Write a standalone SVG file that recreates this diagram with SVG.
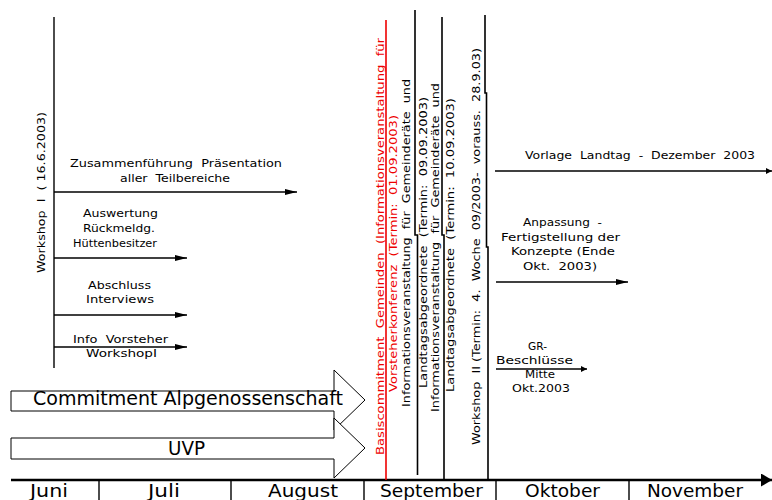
<svg xmlns="http://www.w3.org/2000/svg" width="772" height="500" viewBox="0 0 772 500">
<style>
  .t { font-family: "DejaVu Sans", Verdana, sans-serif; font-size: 11.3px; fill: #000; white-space: pre; }
  .r { fill: #e00; }
  .big { font-family: "DejaVu Sans", Verdana, sans-serif; font-size: 19px; fill: #000; }
  .mon { font-family: "DejaVu Sans", Verdana, sans-serif; font-size: 17px; fill: #000; }
  .ln { stroke: #000; stroke-width: 1.4; fill: none; }
  .vl { stroke: #000; stroke-width: 1.6; fill: none; }
  .blk { stroke: #000; stroke-width: 1; fill: #fff; }
</style>
<defs>
  <marker id="ah" markerUnits="userSpaceOnUse" markerWidth="12" markerHeight="6" refX="12" refY="3" orient="auto">
    <path d="M0,0 L12,3 L0,6 z" fill="#000"/>
  </marker>
  <marker id="ahs" markerUnits="userSpaceOnUse" markerWidth="6" markerHeight="6" refX="6" refY="3" orient="auto">
    <path d="M0,0 L6,3 L0,6 z" fill="#000"/>
  </marker>
  <marker id="ahbig" markerUnits="userSpaceOnUse" markerWidth="11" markerHeight="13" refX="11" refY="6.5" orient="auto">
    <path d="M0,0 L11,6.5 L0,13 z" fill="#000"/>
  </marker>
</defs>
<rect width="772" height="500" fill="#fff"/>

<g id="timeline">
  <line x1="11" y1="480" x2="772" y2="480" stroke="#000" stroke-width="2.7" marker-end="url(#ahbig)"/>
  <g class="ln">
    <line x1="99" y1="480" x2="99" y2="500"/>
    <line x1="231" y1="480" x2="231" y2="500"/>
    <line x1="364" y1="480" x2="364" y2="500"/>
    <line x1="496" y1="480" x2="496" y2="500"/>
    <line x1="629" y1="480" x2="629" y2="500"/>
  </g>
  <text class="mon" x="30" y="497" textLength="38" lengthAdjust="spacingAndGlyphs">Juni</text>
  <text class="mon" x="148" y="497" textLength="32" lengthAdjust="spacingAndGlyphs">Juli</text>
  <text class="mon" x="268" y="497" textLength="70" lengthAdjust="spacingAndGlyphs">August</text>
  <text class="mon" x="380" y="497" textLength="103" lengthAdjust="spacingAndGlyphs">September</text>
  <text class="mon" x="525" y="497" textLength="75" lengthAdjust="spacingAndGlyphs">Oktober</text>
  <text class="mon" x="647" y="497" textLength="96" lengthAdjust="spacingAndGlyphs">November</text>
</g>

<g id="commitment">
  <polygon class="blk" points="11,391 334,391 334,370 365,400 334,430 334,411 11,411"/>
  <text class="big" x="33" y="405" textLength="310" lengthAdjust="spacingAndGlyphs">Commitment Alpgenossenschaft</text>
</g>
<g id="uvp">
  <polygon class="blk" points="11,438 334,438 334,418 365,448 334,478 334,459 11,459"/>
  <text class="big" x="168" y="455" textLength="37" lengthAdjust="spacingAndGlyphs">UVP</text>
</g>

<g id="workshop1">
  <line class="ln" x1="54" y1="17" x2="54" y2="368"/>
  <text class="t" transform="translate(45,273) rotate(-90)" textLength="161" lengthAdjust="spacingAndGlyphs">Workshop  I  ( 16.6.2003)</text>
</g>

<g id="connectors">
  <line class="ln" x1="54" y1="192" x2="297" y2="192" marker-end="url(#ah)"/>
  <line class="ln" x1="54" y1="258" x2="187" y2="258" marker-end="url(#ah)"/>
  <line class="ln" x1="54" y1="315" x2="187" y2="315" marker-end="url(#ah)"/>
  <line class="ln" x1="54" y1="347" x2="187" y2="347" marker-end="url(#ah)"/>
  <line class="ln" x1="495" y1="171" x2="772" y2="171" marker-end="url(#ahs)"/>
  <line class="ln" x1="496" y1="282" x2="628" y2="282" marker-end="url(#ah)"/>
  <line class="ln" x1="496" y1="369" x2="587" y2="369" marker-end="url(#ahs)"/>
</g>

<g id="zusammenfuehrung">
  <text class="t" x="70" y="167" textLength="212" lengthAdjust="spacingAndGlyphs">Zusammenführung  Präsentation</text>
  <text class="t" x="120" y="182" textLength="110" lengthAdjust="spacingAndGlyphs">aller  Teilbereiche</text>
</g>
<g id="auswertung">
  <text class="t" x="83" y="217" textLength="75" lengthAdjust="spacingAndGlyphs">Auswertung</text>
  <text class="t" x="83" y="232" textLength="72" lengthAdjust="spacingAndGlyphs">Rückmeldg.</text>
  <text class="t" x="73" y="247" textLength="84" lengthAdjust="spacingAndGlyphs">Hüttenbesitzer</text>
</g>
<g id="abschluss">
  <text class="t" x="88" y="289" textLength="63" lengthAdjust="spacingAndGlyphs">Abschluss</text>
  <text class="t" x="86" y="303" textLength="68" lengthAdjust="spacingAndGlyphs">Interviews</text>
</g>
<g id="info">
  <text class="t" x="73" y="343" textLength="95" lengthAdjust="spacingAndGlyphs">Info  Vorsteher</text>
  <text class="t" x="86" y="357" textLength="71" lengthAdjust="spacingAndGlyphs">WorkshopI</text>
</g>

<g id="basiscommitment">
  <line x1="386" y1="20" x2="386" y2="480" stroke="#e00" stroke-width="1.6"/>
  <text class="t r" transform="translate(384,455) rotate(-90)" textLength="417" lengthAdjust="spacingAndGlyphs">Basiscommitment  Gemeinden  (Informationsveranstaltung  für</text>
  <text class="t r" transform="translate(397,392) rotate(-90)" textLength="277" lengthAdjust="spacingAndGlyphs">Vorsteherkonferenz  (Termin:  01.09.2003)</text>
</g>

<g id="info-09">
  <path class="vl" d="M415,10 V235 H417.5 V475"/>
  <text class="t" transform="translate(410,407) rotate(-90)" textLength="328" lengthAdjust="spacingAndGlyphs">Informationsveranstaltung  für  Gemeinderäte  und</text>
  <text class="t" transform="translate(427,388) rotate(-90)" textLength="291" lengthAdjust="spacingAndGlyphs">Landtagsabgeordnete  (Termin:  09.09.2003)</text>
</g>

<g id="info-10">
  <path class="vl" d="M442,17 V235 H444 V480"/>
  <text class="t" transform="translate(439,412) rotate(-90)" textLength="329" lengthAdjust="spacingAndGlyphs">Informationsveranstaltung  für  Gemeinderäte  und</text>
  <text class="t" transform="translate(454,392) rotate(-90)" textLength="294" lengthAdjust="spacingAndGlyphs">Landtagsabgeordnete  (Termin:  10.09.2003)</text>
</g>

<g id="workshop2">
  <path class="vl" d="M485,15 V93 H486.5 V247 H488 V480"/>
  <text class="t" transform="translate(480,445) rotate(-90)" textLength="397" lengthAdjust="spacingAndGlyphs">Workshop  II (Termin:  4.  Woche  09/2003-  vorauss.  28.9.03)</text>
</g>

<g id="vorlage">
  <text class="t" x="525" y="159" textLength="230" lengthAdjust="spacingAndGlyphs">Vorlage  Landtag  -  Dezember  2003</text>
</g>
<g id="anpassung">
  <text class="t" x="523" y="226" textLength="79" lengthAdjust="spacingAndGlyphs">Anpassung  -</text>
  <text class="t" x="501" y="241" textLength="119" lengthAdjust="spacingAndGlyphs">Fertigstellung der</text>
  <text class="t" x="511" y="255" textLength="104" lengthAdjust="spacingAndGlyphs">Konzepte (Ende</text>
  <text class="t" x="523" y="270" textLength="74" lengthAdjust="spacingAndGlyphs">Okt.  2003)</text>
</g>
<g id="gr-beschluesse">
  <text class="t" x="528" y="350" textLength="19" lengthAdjust="spacingAndGlyphs">GR-</text>
  <text class="t" x="496" y="364" textLength="77" lengthAdjust="spacingAndGlyphs">Beschlüsse</text>
  <text class="t" x="525" y="378" textLength="30" lengthAdjust="spacingAndGlyphs">Mitte</text>
  <text class="t" x="512" y="392" textLength="58" lengthAdjust="spacingAndGlyphs">Okt.2003</text>
</g>
</svg>
